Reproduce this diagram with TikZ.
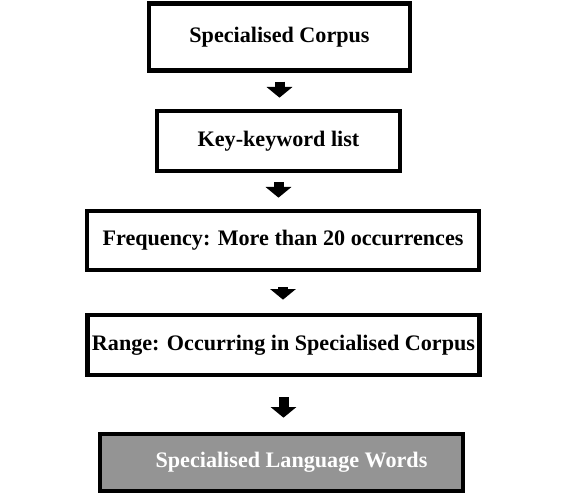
\documentclass[tikz,border=0pt]{standalone}
\usepackage{fontspec}
\setmainfont{Liberation Serif}
\usepackage{tikz}
\usetikzlibrary{arrows.meta}
\tikzset{
  stepbox/.style ={draw=black, line width=3.5pt, fill=white, inner sep=0pt,
                   font=\bfseries\fontsize{16.6}{19}\selectfont},
  finalbox/.style={stepbox, fill=black!42, text=white},
  flowS/.style   ={line width=7.5pt, -{Triangle[length=8pt,width=19pt]}},
}
\begin{document}
\begin{tikzpicture}[x=0.75pt, y=-0.75pt]
  \useasboundingbox (0,0) rectangle (567,495);
  \node[stepbox, minimum width=195.75pt, minimum height=50pt]   (corpus) at (279.5,37) {Specialised Corpus};
  \node[stepbox, minimum width=182.25pt, minimum height=45pt]   (keyw)   at (278.5,141) {Key-keyword list};
  \node[stepbox, minimum width=294pt,    minimum height=44.25pt] (freq)  at (283,240.5) {Frequency: More than 20 occurrences};
  \node[stepbox, minimum width=294pt,    minimum height=45pt]   (range)  at (283.5,345) {Range: Occurring in Specialised Corpus};
  \node[finalbox, minimum width=272.25pt, minimum height=42.75pt] (words) at (281.5,462.5) {\hspace*{15pt}Specialised Language Words};
  % block arrows between the steps
  \draw[flowS, shorten <=6.75pt, shorten >=8.25pt] (corpus.south) -- (corpus.south |- keyw.north);
  \draw[flowS, shorten <=6.75pt, shorten >=8.25pt] (keyw.south) -- (keyw.south |- freq.north);
  \draw[flowS, shorten <=11.25pt, shorten >=9.75pt] (freq.south) -- (freq.south |- range.north);
  \draw[flowS, shorten <=15pt, shorten >=10.5pt] (range.south) -- (range.south |- words.north);
\end{tikzpicture}
\end{document}
